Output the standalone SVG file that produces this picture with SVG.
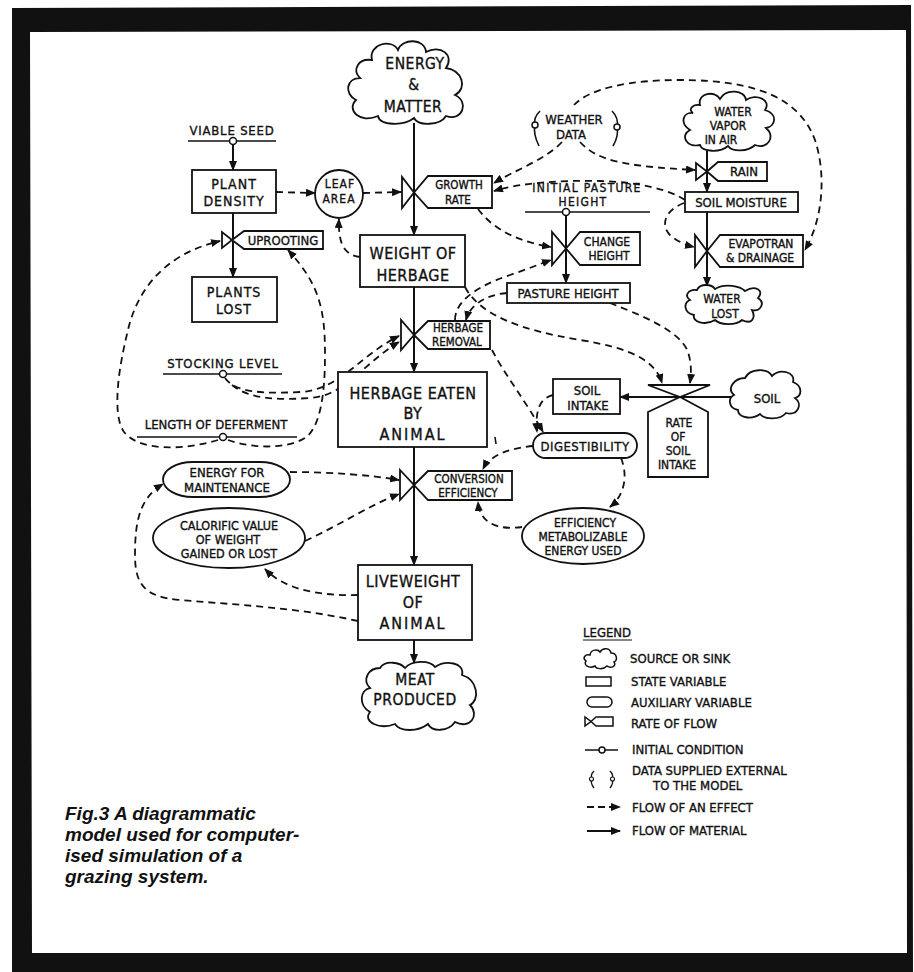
<svg xmlns="http://www.w3.org/2000/svg" width="914" height="972" viewBox="0 0 914 972">
<defs>
<style>
.bg{fill:#fff}
.frame{fill:#111;fill-rule:evenodd}
.box{fill:#fff;stroke:#111;stroke-width:1.8}
.ic{fill:#fff;stroke:#111;stroke-width:1.5}
.hl{fill:none;stroke:#111;stroke-width:1.6}
.ef{fill:none;stroke:#111;stroke-width:1.8;stroke-dasharray:7 5}
.mat{fill:none;stroke:#111;stroke-width:2}
text{font-family:"DejaVu Sans Condensed","DejaVu Sans","Liberation Sans",sans-serif;font-stretch:condensed;fill:#111;stroke:#111;stroke-width:0.35px}
.t{font-size:13px;text-anchor:middle}
.u{font-size:12px;text-anchor:middle}
.s12{font-size:11.5px;text-anchor:middle}
.m{font-size:14px;text-anchor:middle;letter-spacing:1px}
.big{font-size:16px;text-anchor:middle;letter-spacing:0.5px}
.lg{font-size:13px}
.cap{font-family:"Liberation Sans",Arial,sans-serif;font-size:19px;font-weight:bold;font-style:italic;stroke:none}
</style>
<marker id="ah" viewBox="0 0 10 8" refX="9" refY="4" markerWidth="10" markerHeight="8" markerUnits="userSpaceOnUse" orient="auto"><path d="M0,0 L10,4 L0,8 z" fill="#111"/></marker>
</defs>
<rect class="bg" x="0" y="0" width="914" height="972"/>
<path class="frame" d="M12,8 L911,5 L913,972 L12,972 Z M30,32 L906,30 L907,953 L32,953 Z"/>

<g id="connectors">
<path class="mat" d="M414,123 L414,235" marker-end="url(#ah)"/>
<path class="mat" d="M233,144 L233,170" marker-end="url(#ah)"/>
<path class="mat" d="M233,213 L233,277" marker-end="url(#ah)"/>
<path class="mat" d="M414,287 L414,372" marker-end="url(#ah)"/>
<path class="mat" d="M414,447 L414,565" marker-end="url(#ah)"/>
<path class="mat" d="M414,640 L414,663" marker-end="url(#ah)"/>
<path class="mat" d="M707,148 L707,192" marker-end="url(#ah)"/>
<path class="mat" d="M707,212 L707,286" marker-end="url(#ah)"/>
<path class="mat" d="M566,215 L566,283" marker-end="url(#ah)"/>
<path class="mat" d="M732,397 L620,397" marker-end="url(#ah)"/>
<path class="ef" d="M276,192 L315,193" marker-end="url(#ah)"/>
<path class="ef" d="M363,193 L401,192" marker-end="url(#ah)"/>
<path class="ef" d="M360,257 C345,255 338,245 339,219" marker-end="url(#ah)"/>
<path class="ef" d="M562,142 C545,160 515,170 494,183" marker-end="url(#ah)"/>
<path class="ef" d="M685,200 C670,190 640,182 600,181 C560,180 520,183 494,191" marker-end="url(#ah)"/>
<path class="ef" d="M684,203 C665,210 660,225 670,235 C678,242 686,245 694,247" marker-end="url(#ah)"/>
<path class="ef" d="M574,105 C590,88 630,80 680,80 C760,80 800,100 815,140 C825,170 825,215 805,250" marker-end="url(#ah)"/>
<path class="ef" d="M580,142 C597,160 620,166 695,170" marker-end="url(#ah)"/>
<path class="ef" d="M478,209 C490,225 510,240 551,247" marker-end="url(#ah)"/>
<path class="ef" d="M455,320 C455,300 480,285 510,275 C525,270 540,264 551,260" marker-end="url(#ah)"/>
<path class="ef" d="M507,293 C485,295 470,305 466,320" marker-end="url(#ah)"/>
<path class="ef" d="M465,287 C480,315 520,330 580,340 C630,348 655,360 662,383" marker-end="url(#ah)"/>
<path class="ef" d="M610,303 C640,315 680,330 688,352 C692,365 691,375 690,383" marker-end="url(#ah)"/>
<path class="ef" d="M492,350 C505,375 525,400 543,432" marker-end="url(#ah)"/>
<path class="ef" d="M553,395 C540,398 535,410 537,432" marker-end="url(#ah)"/>
<path class="ef" d="M533,446 C510,448 490,455 483,469" marker-end="url(#ah)"/>
<path class="ef" d="M621,458 C628,475 625,495 610,507" marker-end="url(#ah)"/>
<path class="ef" d="M522,527 C500,530 480,525 478,502" marker-end="url(#ah)"/>
<path class="ef" d="M290,472 C330,472 370,475 399,480" marker-end="url(#ah)"/>
<path class="ef" d="M305,541 C340,525 370,505 399,494" marker-end="url(#ah)"/>
<path class="ef" d="M358,595 C320,596 285,590 265,569" marker-end="url(#ah)"/>
<path class="ef" d="M358,621 C300,608 240,605 180,600 C145,597 135,585 135,555 C135,520 140,498 163,484" marker-end="url(#ah)"/>
<path class="ef" d="M225,378 C235,392 260,394 300,392 C340,390 360,355 399,336" marker-end="url(#ah)"/>
<path class="ef" d="M232,385 C250,400 280,400 310,398 C345,396 365,362 399,342" marker-end="url(#ah)"/>
<path class="ef" d="M228,440 C250,448 285,450 305,438 C320,428 325,395 325,355 C325,310 320,285 288,250" marker-end="url(#ah)"/>
<path class="ef" d="M218,440 C185,450 140,452 124,432 C112,415 118,370 128,330 C136,295 160,255 220,241" marker-end="url(#ah)"/>
<path class="mat" style="stroke-width:1.6" d="M495,437 L496,444"/>
</g>

<g id="energy-matter">
<path class="box" d="M372,60 C368,44 392,38 398,50 C402,38 425,38 426,52 C440,44 455,55 446,68 C462,70 468,88 455,95 C470,102 462,122 446,116 C440,126 418,126 414,118 C404,126 380,126 378,116 C360,124 346,110 356,100 C344,94 346,78 360,78 C352,70 358,58 372,60 Z"/>
<text class="big" x="415" y="69" style="font-size:15.5px">ENERGY</text>
<text class="big" x="414" y="90" style="font-size:15.5px">&amp;</text>
<text class="big" x="413" y="112" style="font-size:15.5px">MATTER</text>
</g>

<g id="viable-seed">
<text class="t" x="232" y="135" style="letter-spacing:0.8px">VIABLE SEED</text>
<line class="hl" x1="188" y1="141" x2="276" y2="141"/>
<circle class="ic" cx="233" cy="141" r="3.5"/>
</g>

<g id="plant-density">
<rect class="box" x="192" y="170" width="84" height="43"/>
<text class="m" x="234" y="189">PLANT</text>
<text class="m" x="234" y="206">DENSITY</text>
</g>

<g id="leaf-area">
<circle class="box" cx="339" cy="194" r="24"/>
<text class="u" x="340" y="188" style="letter-spacing:1px">LEAF</text>
<text class="u" x="339" y="203" style="letter-spacing:1px">AREA</text>
</g>

<g id="growth-rate">
<path class="box" d="M402,177 L402,208 L414,192.5 Z"/>
<path class="box" d="M414,192.5 L428,176 L492,176 L492,208 L428,208 Z"/>
<text class="s12" x="459" y="189">GROWTH</text>
<text class="s12" x="458" y="204">RATE</text>
</g>

<g id="uprooting">
<path class="box" d="M222,232 L222,248 L232,240 Z"/>
<path class="box" d="M232,240 L244,231 L323,231 L323,249 L244,249 Z"/>
<text class="t" x="283" y="245">UPROOTING</text>
</g>

<g id="plants-lost">
<rect class="box" x="192" y="277" width="85" height="45"/>
<text class="m" x="234" y="297">PLANTS</text>
<text class="m" x="234" y="314">LOST</text>
</g>

<g id="weight-of-herbage">
<rect class="box" x="360" y="235" width="105" height="52"/>
<text class="big" x="413" y="259">WEIGHT OF</text>
<text class="big" x="413" y="281">HERBAGE</text>
</g>

<g id="weather-data">
<text class="t" x="574" y="124">WEATHER</text>
<text class="t" x="571" y="139">DATA</text>
<path class="hl" d="M540,111 Q533,118 535,125 Q533,134 539,146"/>
<circle class="ic" cx="535" cy="125" r="3"/>
<path class="hl" d="M612,111 Q619,118 617,127 Q619,136 613,146"/>
<circle class="ic" cx="617" cy="127" r="3"/>
</g>

<g id="water-vapor">
<path class="box" d="M700,105 C697,93 715,90 720,99 C726,88 745,90 746,100 C756,93 772,100 765,110 C778,114 776,126 766,128 C776,136 768,150 755,145 C748,152 732,152 728,146 C720,153 702,152 700,145 C686,148 680,135 690,130 C680,124 682,112 693,113 C688,110 692,104 700,105 Z"/>
<text class="u" x="733" y="116">WATER</text>
<text class="u" x="728" y="130">VAPOR</text>
<text class="u" x="721" y="144">IN AIR</text>
</g>

<g id="rain">
<path class="box" d="M696,163 L696,180 L707,171.5 Z"/>
<path class="box" d="M707,171.5 L718,162 L767,162 L767,181 L718,181 Z"/>
<text class="t" x="744" y="176">RAIN</text>
</g>

<g id="soil-moisture">
<rect class="box" x="685" y="192" width="113" height="20"/>
<text class="t" x="741" y="207">SOIL MOISTURE</text>
</g>

<g id="evapotran-drainage">
<path class="box" d="M695,235 L695,267 L707,251 Z"/>
<path class="box" d="M707,251 L720,235 L803,235 L803,267 L720,267 Z"/>
<text class="u" x="761" y="248">EVAPOTRAN</text>
<text class="u" x="760" y="262">&amp; DRAINAGE</text>
</g>

<g id="water-lost">
<path class="box" d="M697,290 C700,283 712,284 715,289 C725,283 740,286 745,291 C755,285 765,290 758,298 C766,303 760,312 752,310 C756,318 752,325 742,320 C735,326 720,325 715,320 C705,326 692,322 694,315 C684,313 683,303 690,300 C684,296 688,289 697,290 Z"/>
<text class="u" x="722" y="303">WATER</text>
<text class="u" x="725" y="318">LOST</text>
</g>

<g id="initial-pasture-height">
<text class="u" x="587" y="192" style="letter-spacing:1.3px">INITIAL PASTURE</text>
<text class="u" x="583" y="206" style="letter-spacing:1.3px">HEIGHT</text>
<line class="hl" x1="525" y1="212" x2="650" y2="212"/>
<circle class="ic" cx="566" cy="212" r="3.5"/>
</g>

<g id="change-height">
<path class="box" d="M552,232 L552,265 L566,248.5 Z"/>
<path class="box" d="M566,248.5 L580,232 L640,232 L640,265 L580,265 Z"/>
<text class="u" x="607" y="246">CHANGE</text>
<text class="u" x="609" y="260">HEIGHT</text>
</g>

<g id="pasture-height">
<rect class="box" x="507" y="283" width="123" height="20"/>
<text class="t" x="568" y="298">PASTURE HEIGHT</text>
</g>

<g id="herbage-removal">
<path class="box" d="M401,320 L401,350 L414,335 Z"/>
<path class="box" d="M414,335 L428,321 L490,321 L490,349 L428,349 Z"/>
<text class="s12" x="458" y="332">HERBAGE</text>
<text class="s12" x="457" y="346">REMOVAL</text>
</g>

<g id="stocking-level">
<text class="t" x="223" y="368" style="letter-spacing:0.8px">STOCKING LEVEL</text>
<line class="hl" x1="163" y1="374" x2="282" y2="374"/>
<circle class="ic" cx="223" cy="374" r="3.5"/>
</g>

<g id="length-of-deferment">
<text class="t" x="216" y="429">LENGTH OF DEFERMENT</text>
<line class="hl" x1="137" y1="437" x2="297" y2="437"/>
<circle class="ic" cx="223" cy="437" r="3.5"/>
</g>

<g id="herbage-eaten">
<rect class="box" x="338" y="372" width="149" height="75"/>
<text class="big" x="413" y="399">HERBAGE EATEN</text>
<text class="big" x="413" y="419">BY</text>
<text class="big" x="413" y="440" style="letter-spacing:2px">ANIMAL</text>
</g>

<g id="rate-of-soil-intake">
<path class="box" d="M648,385 L710,385 L680,397 Z"/>
<path class="box" d="M680,397 L708,412 L708,477 L648,477 L648,412 Z"/>
<text class="u" x="679" y="427">RATE</text>
<text class="u" x="678" y="441">OF</text>
<text class="u" x="678" y="455">SOIL</text>
<text class="u" x="677" y="469">INTAKE</text>
</g>

<g id="soil-intake">
<rect class="box" x="553" y="379" width="67" height="35"/>
<text class="t" x="587" y="395">SOIL</text>
<text class="t" x="588" y="410">INTAKE</text>
</g>

<g id="soil">
<path class="box" d="M745,378 C750,368 768,368 772,376 C780,368 796,372 793,382 C803,386 802,396 795,398 C803,404 798,416 786,413 C780,420 765,420 760,414 C752,420 738,418 738,410 C728,408 728,398 734,395 C726,388 735,378 745,378 Z"/>
<text class="t" x="767" y="403">SOIL</text>
</g>

<g id="digestibility">
<rect class="box" x="533" y="433" width="104" height="25" rx="12.5"/>
<text class="t" x="585" y="451" style="letter-spacing:0.5px">DIGESTIBILITY</text>
</g>

<g id="conversion-efficiency">
<path class="box" d="M400,470 L400,500 L414,485 Z"/>
<path class="box" d="M414,485 L428,471 L512,471 L512,500 L428,500 Z"/>
<text class="s12" x="469" y="483">CONVERSION</text>
<text class="s12" x="468" y="497">EFFICIENCY</text>
</g>

<g id="energy-for-maintenance">
<rect class="box" x="163" y="462" width="127" height="35" rx="30" ry="17.5"/>
<text class="t" x="227" y="477">ENERGY FOR</text>
<text class="t" x="227" y="492">MAINTENANCE</text>
</g>

<g id="calorific-value">
<ellipse class="box" cx="229" cy="538" rx="76" ry="30"/>
<text class="u" x="229" y="530" style="font-size:12.5px">CALORIFIC VALUE</text>
<text class="u" x="228" y="544" style="font-size:12.5px">OF WEIGHT</text>
<text class="u" x="229" y="558" style="font-size:12.5px">GAINED OR LOST</text>
</g>

<g id="efficiency-metabolizable">
<ellipse class="box" cx="583" cy="536" rx="61" ry="28"/>
<text class="u" x="585" y="527">EFFICIENCY</text>
<text class="u" x="583" y="541">METABOLIZABLE</text>
<text class="u" x="583" y="555">ENERGY USED</text>
</g>

<g id="liveweight">
<rect class="box" x="358" y="565" width="114" height="75"/>
<text class="big" x="413" y="587">LIVEWEIGHT</text>
<text class="big" x="413" y="608">OF</text>
<text class="big" x="413" y="629" style="letter-spacing:2px">ANIMAL</text>
</g>

<g id="meat-produced">
<path class="box" d="M380,668 C385,660 400,662 405,668 C412,660 430,660 435,667 C445,660 465,662 462,675 C478,680 480,700 470,705 C480,715 470,730 455,722 C448,732 432,732 428,724 C418,732 400,732 395,724 C380,730 362,722 370,712 C358,705 360,690 370,688 C362,680 368,668 380,668 Z"/>
<text class="big" x="415" y="685" style="font-size:15.5px">MEAT</text>
<text class="big" x="415" y="705" style="font-size:15.5px">PRODUCED</text>
</g>

<g id="legend">
<text class="lg" x="583" y="637">LEGEND</text>
<line class="hl" x1="583" y1="640" x2="632" y2="640" style="stroke-width:1.2"/>
<path class="box" style="stroke-width:1.5" d="M590,655 C591,649 598,649 600,652 C603,647 610,648 611,653 C617,653 618,660 614,662 C617,666 611,669 607,666 C603,670 596,669 595,666 C589,669 583,665 586,661 C582,658 585,654 590,655 Z"/>
<text class="lg" x="630" y="663">SOURCE OR SINK</text>
<rect class="box" style="stroke-width:1.5" x="586" y="677" width="25" height="9"/>
<text class="lg" x="631" y="686">STATE VARIABLE</text>
<rect class="box" style="stroke-width:1.5" x="587" y="697" width="25" height="10" rx="5"/>
<text class="lg" x="631" y="707">AUXILIARY VARIABLE</text>
<path class="box" style="stroke-width:1.5" d="M585,717 L585,726 L591,721.5 Z"/>
<path class="box" style="stroke-width:1.5" d="M591,721.5 L596,717 L613,717 L613,726 L596,726 Z"/>
<text class="lg" x="631" y="728">RATE OF FLOW</text>
<line class="hl" x1="585" y1="750" x2="618" y2="750"/>
<circle class="ic" cx="602" cy="750" r="3"/>
<text class="lg" x="632" y="754">INITIAL CONDITION</text>
<path class="hl" style="stroke-width:1.3" d="M594,771 Q590,775 592,779 Q590,783 594,788"/>
<circle class="ic" style="stroke-width:1.1" cx="591.5" cy="779" r="2"/>
<path class="hl" style="stroke-width:1.3" d="M610,771 Q614,775 612,779 Q614,783 610,788"/>
<circle class="ic" style="stroke-width:1.1" cx="612.5" cy="779" r="2"/>
<text class="lg" x="632" y="775">DATA SUPPLIED EXTERNAL</text>
<text class="lg" x="653" y="790">TO THE MODEL</text>
<path class="ef" style="stroke-dasharray:7 4" d="M587,807 L620,807" marker-end="url(#ah)"/>
<text class="lg" x="632" y="812">FLOW OF AN EFFECT</text>
<path class="mat" d="M587,831 L620,831" marker-end="url(#ah)"/>
<text class="lg" x="632" y="835">FLOW OF MATERIAL</text>
</g>

<g id="caption">
<text class="cap" x="65" y="820">Fig.3 A diagrammatic</text>
<text class="cap" x="65" y="841">model used for computer-</text>
<text class="cap" x="65" y="862">ised simulation of a</text>
<text class="cap" x="65" y="883">grazing system.</text>
</g>
</svg>
